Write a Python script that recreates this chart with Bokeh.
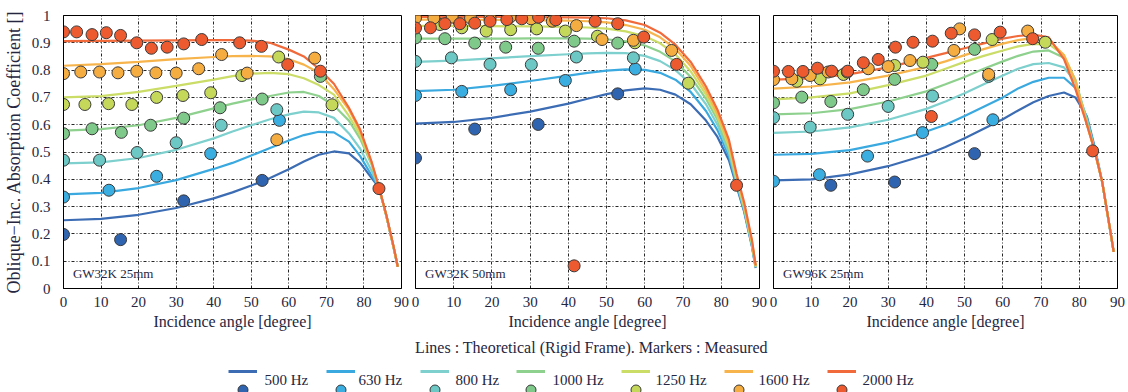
from bokeh.plotting import figure
from bokeh.layouts import row, column
from bokeh.models import Range1d, FixedTicker, Label, Legend, LegendItem
from bokeh.embed import file_html
from bokeh.resources import INLINE

FREQS = ["500 Hz", "630 Hz", "800 Hz", "1000 Hz", "1250 Hz", "1600 Hz", "2000 Hz"]
LINE_COLORS = ["#3c6db4", "#3aa9df", "#7dd0cd", "#8ed08e", "#cbdc67", "#f7b44c", "#f06a3c"]
MARKER_COLORS = ["#2f64b0", "#3aaee0", "#6cc8c4", "#7fc98a", "#c5d85a", "#f5ac40", "#ee5a30"]
PANEL_TITLES = ["GW32K 25mm", "GW32K 50mm", "GW96K 25mm"]
X_TICKS = [0, 10, 20, 30, 40, 50, 60, 70, 80, 90]
Y_TICKS = [0, 0.1, 0.2, 0.3, 0.4, 0.5, 0.6, 0.7, 0.8, 0.9, 1]

# angles at which the theoretical curves were read
THETA = [0, 10, 20, 30, 40, 45, 50, 55, 60, 64, 68, 72, 76, 79, 82, 84, 86, 88, 89]

# ---- Panel 1: GW32K 25mm, theoretical curves ----
T1_500 = [.250, .255, .270, .295, .330, .352, .377, .405, .437, .465, .490, .502, .495, .460, .405, .370, .265, .145, .080]
T1_630 = [.345, .350, .368, .397, .438, .460, .487, .515, .542, .562, .574, .572, .538, .485, .415, .370, .265, .145, .080]
T1_800 = [.458, .462, .478, .508, .550, .575, .598, .620, .638, .648, .645, .625, .568, .512, .432, .370, .265, .145, .080]
T1_1000 = [.578, .584, .598, .625, .660, .677, .692, .705, .718, .720, .705, .670, .615, .548, .455, .370, .265, .145, .080]
T1_1250 = [.700, .705, .720, .742, .765, .778, .787, .790, .785, .770, .745, .710, .632, .562, .460, .370, .265, .145, .080]
T1_1600 = [.816, .822, .830, .840, .848, .851, .852, .850, .840, .820, .790, .730, .655, .575, .462, .370, .265, .145, .080]
T1_2000 = [.906, .907, .908, .909, .910, .910, .908, .900, .875, .850, .805, .750, .662, .582, .466, .372, .267, .147, .080]

# ---- Panel 2: GW32K 50mm, theoretical curves ----
T2_500 = [.604, .610, .625, .648, .677, .695, .712, .726, .733, .728, .710, .675, .615, .555, .470, .375, .280, .155, .075]
T2_630 = [.723, .728, .742, .760, .780, .790, .798, .803, .801, .790, .765, .720, .650, .580, .485, .380, .285, .160, .078]
T2_800 = [.830, .835, .843, .851, .858, .861, .863, .862, .852, .833, .800, .750, .675, .600, .497, .390, .290, .160, .078]
T2_1000 = [.915, .915, .915, .916, .916, .915, .913, .905, .890, .867, .832, .775, .695, .618, .510, .395, .295, .165, .080]
T2_1250 = [.962, .962, .961, .960, .958, .956, .952, .942, .924, .898, .858, .795, .710, .630, .520, .400, .300, .170, .080]
T2_1600 = [.985, .985, .984, .983, .981, .979, .975, .965, .948, .920, .878, .815, .725, .640, .530, .410, .305, .175, .082]
T2_2000 = [.995, .995, .995, .994, .993, .992, .990, .982, .965, .937, .893, .830, .740, .655, .545, .420, .315, .180, .085]

# ---- Panel 3: GW96K 25mm, theoretical curves ----
T3_500 = [.396, .400, .418, .448, .490, .518, .550, .585, .620, .652, .682, .705, .718, .700, .630, .520, .390, .220, .134]
T3_630 = [.490, .493, .507, .535, .575, .600, .632, .666, .700, .733, .757, .772, .772, .735, .625, .515, .390, .220, .134]
T3_800 = [.570, .575, .590, .618, .658, .685, .715, .748, .780, .805, .822, .826, .810, .755, .620, .510, .390, .220, .134]
T3_1000 = [.638, .642, .657, .685, .722, .748, .775, .805, .832, .852, .868, .872, .845, .765, .610, .505, .390, .220, .134]
T3_1250 = [.693, .700, .715, .745, .780, .805, .830, .852, .872, .887, .896, .895, .855, .760, .600, .505, .390, .220, .134]
T3_1600 = [.732, .740, .755, .780, .812, .832, .855, .877, .897, .910, .918, .910, .855, .760, .600, .505, .390, .220, .134]
T3_2000 = [.765, .770, .785, .810, .845, .862, .880, .898, .915, .925, .930, .920, .840, .730, .600, .506, .390, .222, .134]

# ---- Panel 1 measured ----
M1_500_X = [0, 15.2, 32, 52.9]
M1_500_Y = [.198, .179, .321, .396]
M1_630_X = [0, 12.1, 24.8, 39.2, 57.5]
M1_630_Y = [.335, .360, .411, .494, .616]
M1_800_X = [0, 9.6, 19.6, 30, 42, 56.8]
M1_800_Y = [.470, .470, .498, .534, .598, .655]
M1_1000_X = [0, 7.6, 15.4, 23.2, 32, 41.7, 52.9, 68.4]
M1_1000_Y = [.567, .585, .572, .598, .624, .662, .694, .777]
M1_1250_X = [0, 5.7, 12, 18.2, 24.8, 31.8, 39.2, 47.5, 57.3, 71.5]
M1_1250_Y = [.674, .674, .677, .674, .700, .707, .717, .780, .848, .673]
M1_1600_X = [0, 4.6, 9.6, 14.5, 19.5, 24.6, 30, 36, 42.1, 48.9, 56.8, 66.9]
M1_1600_Y = [.787, .793, .793, .790, .796, .790, .789, .805, .857, .789, .545, .844]
M1_2000_X = [0, 3.5, 7.6, 11.4, 15.2, 19.5, 23.4, 27.6, 32, 36.8, 46.9, 52.7, 59.7, 68.4, 84]
M1_2000_Y = [.940, .940, .930, .937, .927, .900, .880, .884, .896, .912, .900, .887, .820, .796, .366]

# ---- Panel 2 measured ----
M2_500_X = [0, 15.5, 32.1, 52.9]
M2_500_Y = [.478, .584, .601, .713]
M2_630_X = [0, 12.1, 24.9, 39.2, 57.5]
M2_630_Y = [.707, .722, .728, .762, .804]
M2_800_X = [0, 9.4, 19.5, 30.3, 42.1, 57]
M2_800_Y = [.832, .845, .821, .820, .848, .845]
M2_1000_X = [0, 7.7, 15.5, 23.6, 32.1, 41.5, 52.9]
M2_1000_Y = [.918, .915, .899, .884, .880, .906, .899]
M2_1250_X = [6.4, 12.1, 18.5, 24.9, 31.7, 39.2, 47.6, 57.4, 71.4]
M2_1250_Y = [.967, .955, .943, .948, .951, .943, .924, .900, .752]
M2_1600_X = [0, 4.8, 9.6, 14.4, 19.5, 24.7, 30.2, 35.8, 42.1, 48.8, 57, 67]
M2_1600_Y = [.991, .991, .994, .991, .991, .994, .988, .979, .963, .912, .909, .872]
M2_2000_X = [0, 3.9, 7.7, 11.6, 15.5, 19.5, 23.9, 27.8, 32.2, 36.7, 41.5, 47, 52.9, 59.7, 68.3, 84]
M2_2000_Y = [.954, .955, .970, .970, .972, .979, .985, .988, .994, .984, .083, .979, .970, .921, .821, .378]

# ---- Panel 3 measured ----
M3_500_X = [15, 31.7, 52.6]
M3_500_Y = [.378, .390, .494]
M3_630_X = [0, 12, 24.6, 39, 57.4]
M3_630_Y = [.393, .417, .485, .571, .618]
M3_800_X = [0, 9.6, 19.4, 30, 41.6, 56.3]
M3_800_Y = [.626, .591, .638, .667, .705, .777]
M3_1000_X = [0, 7.4, 15, 23.5, 31.7, 41.4, 52.6]
M3_1000_Y = [.680, .701, .685, .728, .766, .821, .876]
M3_1250_X = [6.1, 12.2, 18.3, 31.7, 39.1, 57.2, 71.1]
M3_1250_Y = [.759, .768, .784, .817, .829, .912, .902]
M3_1600_X = [0, 4.8, 9.6, 14.3, 19.3, 24.8, 30, 35.7, 47.2, 48.7, 56.3, 66.5]
M3_1600_Y = [.765, .768, .780, .793, .793, .805, .813, .835, .872, .951, .784, .943]
M3_2000_X = [0, 3.9, 7.7, 11.5, 15.2, 19.4, 23.5, 27.4, 31.9, 36.5, 41.3, 41.6, 46.5, 52.6, 59.3, 67.8, 83.5]
M3_2000_Y = [.796, .795, .795, .807, .796, .796, .827, .839, .884, .902, .630, .906, .935, .929, .939, .915, .504]

THEORY = [
    [T1_500, T1_630, T1_800, T1_1000, T1_1250, T1_1600, T1_2000],
    [T2_500, T2_630, T2_800, T2_1000, T2_1250, T2_1600, T2_2000],
    [T3_500, T3_630, T3_800, T3_1000, T3_1250, T3_1600, T3_2000],
]
MEAS = [
    [(M1_500_X, M1_500_Y), (M1_630_X, M1_630_Y), (M1_800_X, M1_800_Y), (M1_1000_X, M1_1000_Y),
     (M1_1250_X, M1_1250_Y), (M1_1600_X, M1_1600_Y), (M1_2000_X, M1_2000_Y)],
    [(M2_500_X, M2_500_Y), (M2_630_X, M2_630_Y), (M2_800_X, M2_800_Y), (M2_1000_X, M2_1000_Y),
     (M2_1250_X, M2_1250_Y), (M2_1600_X, M2_1600_Y), (M2_2000_X, M2_2000_Y)],
    [(M3_500_X, M3_500_Y), (M3_630_X, M3_630_Y), (M3_800_X, M3_800_Y), (M3_1000_X, M3_1000_Y),
     (M3_1250_X, M3_1250_Y), (M3_1600_X, M3_1600_Y), (M3_2000_X, M3_2000_Y)],
]

FONT = "Liberation Serif"
TXT = "#262640"
PANEL_H = 333
# legend layout (px): left edge of each key and of each key's text
LEGEND_KEY_X = [228, 326, 420, 516, 621, 724, 827]
LEGEND_TEXT_X = [264, 358, 455, 552, 655, 758, 862]


def make_panel(idx, width, left, right, show_y):
    p = figure(width=width, height=PANEL_H, x_range=Range1d(0, 90), y_range=Range1d(0, 1),
               output_backend="svg", toolbar_location=None,
               min_border_left=left, min_border_right=right, min_border_top=15, min_border_bottom=45,
               y_axis_location="left" if show_y else None)
    p.outline_line_color = "black"
    p.outline_line_width = 1
    p.outline_line_alpha = 1
    p.background_fill_color = "white"
    p.border_fill_color = "white"
    p.xgrid.ticker = FixedTicker(ticks=X_TICKS)
    p.ygrid.ticker = FixedTicker(ticks=Y_TICKS)
    for g in (p.xgrid, p.ygrid):
        g.grid_line_color = "black"
        g.grid_line_dash = "3 2 1 2"
        g.grid_line_width = 1
        g.grid_line_alpha = 0.85

    p.xaxis.ticker = FixedTicker(ticks=X_TICKS)
    p.xaxis.axis_label = "Incidence angle [degree]"
    for ax in list(p.xaxis) + (list(p.yaxis) if show_y else []):
        ax.major_tick_line_color = None
        ax.minor_tick_line_color = None
        ax.axis_line_color = "black"
        ax.major_label_text_font = FONT
        ax.major_label_text_font_size = "15px"
        ax.major_label_text_color = TXT
        ax.axis_label_text_font = FONT
        ax.axis_label_text_font_style = "normal"
        ax.axis_label_text_color = TXT
    p.xaxis.major_label_standoff = 2
    p.xaxis.axis_label_standoff = 3
    p.xaxis.axis_label_text_font_size = "16px"
    if show_y:
        p.yaxis.ticker = FixedTicker(ticks=Y_TICKS)
        p.yaxis.major_label_overrides = {0: "0", 1: "1"}
        p.yaxis.major_label_standoff = 7
        p.yaxis.axis_label = "Oblique\u2212Inc. Absorption Coefficient []"
        p.yaxis.axis_label_text_font_size = "18px"
        p.yaxis.axis_label_standoff = 5

    for k in range(7):
        p.line(THETA, THEORY[idx][k], line_color=LINE_COLORS[k], line_width=2.2)
    for k in range(7):
        xs, ys = MEAS[idx][k]
        p.scatter(xs, ys, size=12, marker="circle", fill_color=MARKER_COLORS[k],
                  line_color="#3a3a3a", line_width=1)
    p.add_layout(Label(x=2.5, y=0.055, text=PANEL_TITLES[idx], text_font=FONT,
                       text_font_size="13px", text_color=TXT, text_baseline="middle"))
    return p


f1 = make_panel(0, 409, 58, 8, True)
f2 = make_panel(1, 358, 6, 8, False)
f3 = make_panel(2, 361, 6, 11, False)

# bottom strip with note and legend
f4 = figure(width=1128, height=392 - PANEL_H, x_range=Range1d(0, 1), y_range=Range1d(0, 1),
            output_backend="svg", toolbar_location=None, x_axis_location=None, y_axis_location=None,
            min_border_left=0, min_border_right=0, min_border_top=0, min_border_bottom=0)
f4.grid.visible = False
f4.outline_line_color = None
f4.add_layout(Label(x=593, y=45, x_units="screen", y_units="screen",
                    text="Lines : Theoretical (Rigid Frame).  Markers : Measured",
                    text_font=FONT, text_font_size="16px", text_color=TXT,
                    text_align="center", text_baseline="middle"))

NAN = [float("nan")]
key_style = dict(orientation="horizontal", glyph_width=29, label_standoff=0, label_width=0,
                 label_height=0, padding=0, margin=0, border_line_color=None,
                 background_fill_alpha=0)
for k in range(7):
    lr = f4.line(x=NAN, y=NAN, line_color=LINE_COLORS[k], line_width=3)
    sr = f4.scatter(x=NAN, y=NAN, marker="circle", fill_color=MARKER_COLORS[k],
                    line_color="#3a3a3a", line_width=1)
    # line key on top, marker key beneath it, text to the right
    f4.add_layout(Legend(items=[LegendItem(label="", renderers=[lr])],
                         location=(LEGEND_KEY_X[k], 11), glyph_height=20, **key_style))
    f4.add_layout(Legend(items=[LegendItem(label="", renderers=[sr])],
                         location=(LEGEND_KEY_X[k], -10), glyph_height=25, **key_style))
    f4.add_layout(Label(x=LEGEND_TEXT_X[k], y=13, x_units="screen", y_units="screen",
                        text=FREQS[k], text_font=FONT, text_font_size="15px", text_color=TXT,
                        text_baseline="middle"))

layout = column(row(f1, f2, f3), f4)
open("out.html", "w").write(file_html(layout, INLINE))
